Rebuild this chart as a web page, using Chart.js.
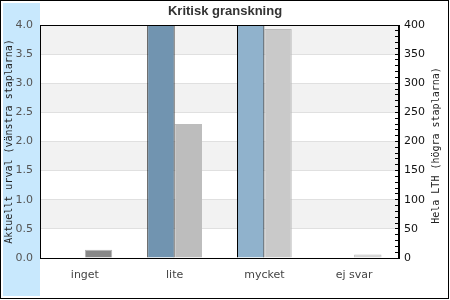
<!DOCTYPE html>
<html>
<head>
<meta charset="utf-8">
<script src="https://cdn.jsdelivr.net/npm/chart.js@4.4.0/dist/chart.umd.min.js"></script>
<style>
    body { margin: 0; background: #fff; }
    #wrap { width: 450px; height: 300px; }
</style>
</head>
<body>
<div id="wrap"><canvas id="chart" width="450" height="300"></canvas></div>
<script>
const categories = ['inget', 'lite', 'mycket', 'ej svar'];
const urvalValues = [0, 4, 4, 0];
const lthValues = [14, 230, 393, 6];
const urvalColors = ['#7194b0', '#7194b0', '#90b2cc', '#90b2cc'];
const lthColors = ['#888888', '#bdbdbd', '#c9c9c9', '#d4d4d4'];
const lthBorders = ['#b4b4b4', '#bdbdbd', '#bbbbbb', '#bbbbbb'];

const leftTitle = 'Aktuellt urval (vänstra staplarna)';
const rightTitle = 'Hela LTH (högra staplarna)';

const frame = {
    id: 'frame',
    beforeDraw(chart) {
        const { ctx, chartArea } = chart;
        const y = chart.scales.y;
        ctx.save();
        // blue panel behind the left axis
        ctx.fillStyle = '#c8e8fd';
        ctx.fillRect(3, 3, chartArea.left - 3, chart.height - 7);
        // alternating bands
        ctx.fillStyle = '#f2f2f2';
        for (const tick of y.ticks) {
            if (Math.round(tick.value * 2) % 2 === 1) {
                const top = y.getPixelForValue(tick.value + 0.5);
                const bottom = y.getPixelForValue(tick.value);
                ctx.fillRect(chartArea.left, top, chartArea.right - chartArea.left, bottom - top);
            }
        }
        ctx.restore();
    },
    afterDraw(chart) {
        const { ctx, chartArea } = chart;
        const y1 = chart.scales.y1;
        ctx.save();
        ctx.strokeStyle = '#000';
        ctx.lineWidth = 1;
        ctx.strokeRect(Math.round(chartArea.left) + 0.5, Math.round(chartArea.top) + 0.5,
            Math.round(chartArea.right - chartArea.left) - 1, Math.round(chartArea.bottom - chartArea.top));
        ctx.strokeRect(0.5, 0.5, chart.width - 2, chart.height - 2);
        // right axis title, reading upwards
        ctx.translate(y1.right - 14, (chartArea.top + chartArea.bottom) / 2 + 4);
        ctx.rotate(-Math.PI / 2);
        ctx.font = '10px "DejaVu Sans Mono"';
        ctx.fillStyle = '#222';
        ctx.textAlign = 'center';
        ctx.textBaseline = 'middle';
        ctx.fillText(rightTitle, 0, 0);
        ctx.restore();
    },
};

new Chart(document.querySelector('#chart'), {
    type: 'bar',
    data: {
        labels: categories,
        datasets: [
            {
                label: 'Aktuellt urval',
                data: urvalValues,
                yAxisID: 'y',
                backgroundColor: urvalColors,
                borderColor: '#000',
                borderWidth: 1,
            },
            {
                label: 'Hela LTH',
                data: lthValues,
                yAxisID: 'y1',
                backgroundColor: lthColors,
                borderColor: lthBorders,
                borderWidth: 1,
            },
        ],
    },
    options: {
        responsive: false,
        animation: false,
        devicePixelRatio: 1,
        layout: { padding: 0 },
        categoryPercentage: 0.61,
        barPercentage: 1,
        plugins: {
            legend: { display: false },
            tooltip: { enabled: false },
            title: {
                display: true,
                text: 'Kritisk granskning',
                color: '#333',
                font: { family: '"Liberation Sans", Arial', size: 13, weight: 'bold' },
                padding: { top: 4, bottom: 5.4 },
            },
        },
        scales: {
            x: {
                grid: { display: false },
                border: { color: '#000' },
                ticks: {
                    color: '#444',
                    padding: 3,
                    font: { family: '"DejaVu Sans"', size: 11 },
                },
                afterFit: scale => { scale.height = 42; },
            },
            y: {
                position: 'left',
                min: 0,
                max: 4,
                grid: { color: '#e0e0e0', drawTicks: false },
                border: { color: '#000' },
                ticks: {
                    stepSize: 0.5,
                    color: '#555',
                    padding: 7,
                    font: { family: '"DejaVu Sans"', size: 11 },
                    callback: value => value.toFixed(1),
                },
                title: {
                    display: true,
                    text: leftTitle,
                    color: '#222',
                    font: { family: '"DejaVu Sans Mono"', size: 10 },
                    padding: { top: 3, bottom: 0 },
                },
                afterFit: scale => { scale.width = 40; },
            },
            y1: {
                position: 'right',
                min: 0,
                max: 400,
                grid: { drawOnChartArea: false, tickLength: -4, color: '#000' },
                border: { color: '#000' },
                ticks: {
                    stepSize: 10,
                    autoSkip: false,
                    color: '#111',
                    padding: 9,
                    font: { family: '"DejaVu Sans"', size: 11 },
                    callback: value => (value % 50 === 0 ? value : ''),
                },
                afterFit: scale => { scale.width = 51; },
            },
        },
    },
    plugins: [frame],
});
</script>
</body>
</html>
